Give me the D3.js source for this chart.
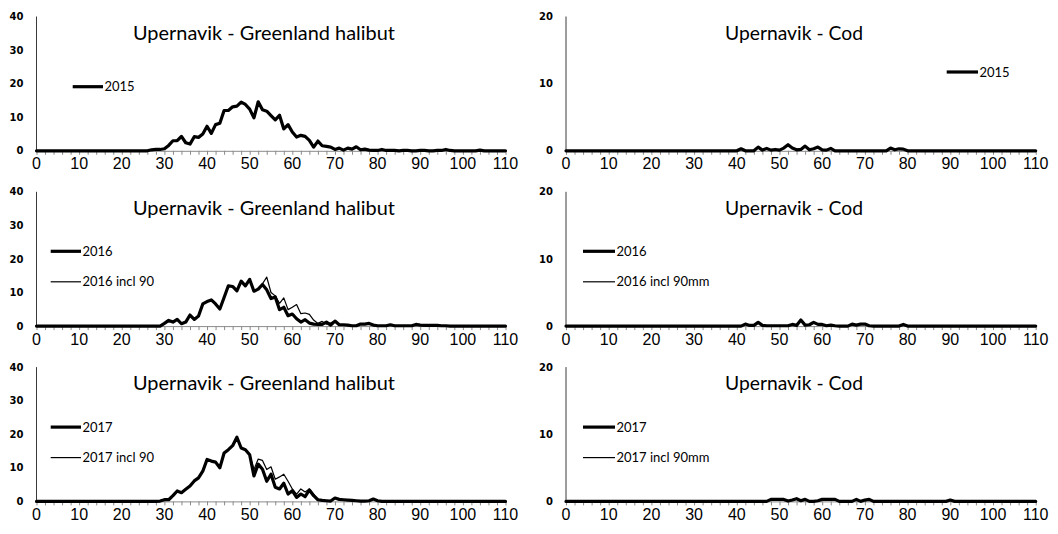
<!DOCTYPE html>
<html>
<head>
<meta charset="utf-8">
<script src="https://cdn.jsdelivr.net/npm/d3@7/dist/d3.min.js"></script>
<style>
  body { margin: 0; background: #fff; }
  svg { display: block; }
  .title { font-family: Lato, "Noto Sans", sans-serif; fill: #000; }
  .legend text { font-family: Lato, "Noto Sans", sans-serif; font-size: 13px; fill: #000; }
  .ylab { font-family: "DejaVu Sans", sans-serif; font-weight: bold; font-size: 10px; fill: #000; }
  .xlab { font-family: "Liberation Sans Narrow", "Arial Narrow", "Liberation Sans", sans-serif; font-size: 16px; fill: #000; }
</style>
</head>
<body>
<svg id="chart" width="1058" height="534"></svg>
<script>
// Length classes (cm), 0 to 110
const lengthClasses = d3.range(0, 111);
const xTickLabels = [0, 10, 20, 30, 40, 50, 60, 70, 80, 90, 100, 110];
const halibutYTicks = [0, 10, 20, 30, 40];
const codYTicks = [0, 10, 20];

// Greenland halibut length frequencies, Upernavik
const halibut2015 = [
  0, 0, 0, 0, 0, 0, 0, 0, 0, 0,
  0, 0, 0, 0, 0, 0, 0, 0, 0, 0,
  0, 0, 0, 0, 0, 0, 0, 0.3, 0.4, 0.4,
  0.6, 1.6, 3.0, 3.0, 4.3, 2.4, 2.0, 4.2, 4.0, 5.0,
  7.3, 5.2, 7.8, 8.2, 12.0, 12.0, 13.1, 13.3, 14.5, 13.8,
  12.4, 9.8, 14.6, 12.2, 11.8, 10.5, 9.2, 10.6, 6.5, 7.8,
  5.6, 4.1, 4.6, 4.3, 3.1, 1.1, 2.9, 1.5, 1.3, 1.1,
  0.4, 0.8, 0.2, 0.8, 0.5, 1.2, 0.3, 0.5, 0.2, 0.1,
  0.1, 0.4, 0.1, 0.1, 0.1, 0, 0.1, 0.1, 0, 0,
  0.1, 0.1, 0, 0, 0.1, 0.1, 0.4, 0.1, 0, 0,
  0, 0, 0, 0, 0.2, 0, 0, 0, 0, 0,
  0
];
const halibut2016 = [
  0, 0, 0, 0, 0, 0, 0, 0, 0, 0,
  0, 0, 0, 0, 0, 0, 0, 0, 0, 0,
  0, 0, 0, 0, 0, 0, 0, 0, 0, 0,
  0.8, 1.7, 1.2, 2.0, 0.7, 1.2, 3.3, 2.0, 3.0, 6.6,
  7.3, 7.8, 6.6, 5.1, 8.5, 12.0, 11.8, 10.5, 13.4, 12.0,
  13.9, 10.4, 11.0, 12.4, 10.8, 8.2, 8.7, 4.9, 5.6, 3.1,
  3.6, 2.2, 1.2, 1.9, 0.9, 0.6, 0.5, 0.5, 1.2, 0.3,
  1.5, 0.4, 0.4, 0.3, 0.1, 0.1, 0.6, 0.6, 0.8, 0.3,
  0.1, 0.1, 0.1, 0.4, 0.1, 0.1, 0.1, 0.1, 0.1, 0.5,
  0.3, 0.2, 0.2, 0.2, 0.2, 0.1, 0.1, 0, 0, 0,
  0, 0, 0, 0, 0, 0, 0, 0, 0, 0,
  0
];
const halibut2016incl90 = [
  0, 0, 0, 0, 0, 0, 0, 0, 0, 0,
  0, 0, 0, 0, 0, 0, 0, 0, 0, 0,
  0, 0, 0, 0, 0, 0, 0, 0, 0, 0,
  0.8, 1.7, 1.2, 2.0, 0.7, 1.2, 3.3, 2.0, 3.0, 6.6,
  7.3, 7.8, 6.6, 5.1, 8.5, 12.0, 11.8, 10.5, 13.4, 12.0,
  13.9, 10.4, 11.0, 12.6, 14.6, 10.0, 9.0, 6.8, 8.4, 4.9,
  5.6, 6.4, 3.7, 3.9, 3.5, 1.8, 0.8, 1.4, 0.6, 1.0,
  1.5, 0.4, 0.4, 0.3, 0.1, 0.1, 0.6, 0.6, 0.8, 0.3,
  0.1, 0.1, 0.1, 0.4, 0.1, 0.1, 0.1, 0.1, 0.1, 0.5,
  0.3, 0.2, 0.2, 0.2, 0.2, 0.1, 0.1, 0, 0, 0,
  0, 0, 0, 0, 0, 0, 0, 0, 0, 0,
  0
];
const halibut2017 = [
  0, 0, 0, 0, 0, 0, 0, 0, 0, 0,
  0, 0, 0, 0, 0, 0, 0, 0, 0, 0,
  0, 0, 0, 0, 0, 0, 0, 0, 0, 0.1,
  0.5, 0.5, 1.7, 3.1, 2.6, 3.6, 4.6, 6.1, 7.0, 9.0,
  12.5, 12.0, 11.7, 10.0, 14.4, 15.4, 16.6, 19.1, 15.9, 15.4,
  13.9, 7.6, 11.1, 9.6, 6.0, 8.1, 4.2, 3.7, 5.4, 2.2,
  3.2, 1.2, 2.2, 1.4, 3.4, 1.7, 0.5, 0.3, 0.2, 0.1,
  1.0, 0.6, 0.5, 0.4, 0.3, 0.2, 0.1, 0.1, 0.2, 0.7,
  0.2, 0, 0, 0, 0, 0, 0, 0, 0, 0,
  0, 0, 0, 0, 0, 0, 0, 0, 0, 0,
  0, 0, 0, 0, 0, 0, 0, 0, 0, 0,
  0
];
const halibut2017incl90 = [
  0, 0, 0, 0, 0, 0, 0, 0, 0, 0,
  0, 0, 0, 0, 0, 0, 0, 0, 0, 0,
  0, 0, 0, 0, 0, 0, 0, 0, 0, 0.1,
  0.5, 0.5, 1.7, 3.1, 2.6, 3.6, 4.6, 6.1, 7.0, 9.0,
  12.5, 12.0, 11.7, 10.0, 14.4, 15.4, 16.6, 19.1, 15.9, 15.4,
  13.9, 9.5, 12.6, 12.2, 9.5, 10.3, 6.6, 7.3, 8.1, 6.0,
  3.7, 2.2, 3.7, 2.8, 3.7, 2.2, 0.5, 0.3, 0.2, 0.1,
  1.0, 0.6, 0.5, 0.4, 0.3, 0.2, 0.1, 0.1, 0.2, 0.7,
  0.2, 0, 0, 0, 0, 0, 0, 0, 0, 0,
  0, 0, 0, 0, 0, 0, 0, 0, 0, 0,
  0, 0, 0, 0, 0, 0, 0, 0, 0, 0,
  0
];

// Cod length frequencies, Upernavik
const cod2015 = [
  0, 0, 0, 0, 0, 0, 0, 0, 0, 0,
  0, 0, 0, 0, 0, 0, 0, 0, 0, 0,
  0, 0, 0, 0, 0, 0, 0, 0, 0, 0,
  0, 0, 0, 0, 0, 0, 0, 0, 0, 0,
  0, 0.3, 0, 0, 0, 0.55, 0.1, 0.35, 0.1, 0.2,
  0.1, 0.4, 0.9, 0.4, 0.15, 0.2, 0.7, 0.15, 0.3, 0.55,
  0.15, 0.1, 0.35, 0, 0, 0, 0, 0, 0, 0,
  0, 0, 0, 0, 0, 0, 0.4, 0.15, 0.3, 0.25,
  0, 0, 0, 0, 0, 0, 0, 0, 0, 0,
  0, 0, 0, 0, 0, 0, 0, 0, 0, 0,
  0, 0, 0, 0, 0, 0, 0, 0, 0, 0,
  0
];
const cod2016 = [
  0, 0, 0, 0, 0, 0, 0, 0, 0, 0,
  0, 0, 0, 0, 0, 0, 0, 0, 0, 0,
  0, 0, 0, 0, 0, 0, 0, 0, 0, 0,
  0, 0, 0, 0, 0, 0, 0, 0, 0, 0,
  0, 0, 0.3, 0.1, 0.1, 0.55, 0.1, 0.05, 0.05, 0.05,
  0.05, 0.05, 0.05, 0.25, 0.1, 0.9, 0.15, 0.2, 0.55, 0.25,
  0.25, 0.05, 0.15, 0.05, 0, 0, 0, 0.3, 0.15, 0.3,
  0.3, 0.05, 0, 0, 0, 0, 0, 0, 0, 0.25,
  0, 0, 0, 0, 0, 0, 0, 0, 0, 0,
  0, 0, 0, 0, 0, 0, 0, 0, 0, 0,
  0, 0, 0, 0, 0, 0, 0, 0, 0, 0,
  0
];
const cod2016incl90 = cod2016.slice();
const cod2017 = [
  0, 0, 0, 0, 0, 0, 0, 0, 0, 0,
  0, 0, 0, 0, 0, 0, 0, 0, 0, 0,
  0, 0, 0, 0, 0, 0, 0, 0, 0, 0,
  0, 0, 0, 0, 0, 0, 0, 0, 0, 0,
  0, 0, 0, 0, 0, 0, 0, 0, 0.3, 0.3,
  0.3, 0.3, 0.05, 0.2, 0.4, 0.1, 0.3, 0, 0, 0.1,
  0.3, 0.3, 0.3, 0.3, 0, 0, 0, 0, 0.3, 0,
  0.2, 0.3, 0, 0, 0, 0, 0, 0, 0, 0,
  0, 0, 0, 0, 0, 0, 0, 0, 0, 0,
  0.2, 0, 0, 0, 0, 0, 0, 0, 0, 0,
  0, 0, 0, 0, 0, 0, 0, 0, 0, 0,
  0
];
const cod2017incl90 = cod2017.slice();

const titleHalibut = "Upernavik - Greenland halibut";
const titleCod = "Upernavik - Cod";

// Layout of the 3 x 2 grid of small charts
const columns = [
  { left: 36.5, right: 505.5, titleX: 264, titleWidth: 262 },
  { left: 566, right: 1035.7, titleX: 794, titleWidth: 138 }
];
const rowOffsets = [0, 175.3, 350.6];
const plotTop = 16.5, plotBottom = 150.8;

const THICK = 3.2, THIN = 1.2;

// legend entries: [start, end] offsets from the value axis, and y
const panels = [
  { col: 0, row: 0, title: titleHalibut, yMax: 40, yTicks: halibutYTicks,
    series: [{ name: "2015", values: halibut2015, w: THICK, legend: [36.2, 66.5, 86.7] }] },
  { col: 1, row: 0, title: titleCod, yMax: 20, yTicks: codYTicks,
    series: [{ name: "2015", values: cod2015, w: THICK, legend: [380.7, 412, 72] }] },
  { col: 0, row: 1, title: titleHalibut, yMax: 40, yTicks: halibutYTicks,
    series: [{ name: "2016", values: halibut2016, w: THICK, legend: [14.2, 44.5, 76] },
             { name: "2016 incl 90", values: halibut2016incl90, w: THIN, legend: [14.2, 44.5, 106.5] }] },
  { col: 1, row: 1, title: titleCod, yMax: 20, yTicks: codYTicks,
    series: [{ name: "2016", values: cod2016, w: THICK, legend: [17, 49, 76] },
             { name: "2016 incl 90mm", values: cod2016incl90, w: THIN, legend: [17, 49, 106.5] }] },
  { col: 0, row: 2, title: titleHalibut, yMax: 40, yTicks: halibutYTicks,
    series: [{ name: "2017", values: halibut2017, w: THICK, legend: [14.2, 44.5, 76.5] },
             { name: "2017 incl 90", values: halibut2017incl90, w: THIN, legend: [14.2, 44.5, 107] }] },
  { col: 1, row: 2, title: titleCod, yMax: 20, yTicks: codYTicks,
    series: [{ name: "2017", values: cod2017, w: THICK, legend: [17, 49, 76.5] },
             { name: "2017 incl 90mm", values: cod2017incl90, w: THIN, legend: [17, 49, 107] }] }
];

const svg = d3.select("#chart");

panels.forEach(p => {
  const c = columns[p.col];
  const g = svg.append("g").attr("transform", `translate(0,${rowOffsets[p.row]})`);

  const x = d3.scaleLinear().domain([0, 110]).range([c.left, c.right]);
  const y = d3.scaleLinear().domain([0, p.yMax]).range([plotBottom, plotTop]);

  // value axis: plain line with bold labels
  g.append("line")
    .attr("x1", c.left).attr("x2", c.left)
    .attr("y1", y(0)).attr("y2", y(p.yMax))
    .attr("stroke", "#3a3a3a").attr("stroke-width", 1);
  g.selectAll(".ylab").data(p.yTicks).join("text")
    .attr("class", "ylab")
    .attr("x", c.left - 13)
    .attr("y", d => y(d))
    .attr("dy", "0.36em")
    .attr("text-anchor", "end")
    .text(d => d);

  // length axis: ticks every 2 cm, labels every 10 cm
  const xAxis = d3.axisBottom(x)
    .tickValues(d3.range(0, 111, 2))
    .tickSize(4)
    .tickSizeOuter(0)
    .tickFormat("");
  const ax = g.append("g").attr("transform", `translate(0,${plotBottom})`).call(xAxis);
  ax.select(".domain").attr("stroke", "#8a8a8a");
  ax.selectAll(".tick line").attr("stroke", "#8a8a8a");

  g.selectAll(".xlab").data(xTickLabels).join("text")
    .attr("class", "xlab")
    .attr("x", d => x(d))
    .attr("y", plotBottom + 18.5)
    .attr("text-anchor", "middle")
    .text(d => d);

  // title, fitted to its width
  const t = g.append("text")
    .attr("class", "title")
    .attr("x", c.titleX)
    .attr("y", 39.5)
    .attr("text-anchor", "middle")
    .style("font-size", "18px")
    .text(p.title);
  const w = t.node().getComputedTextLength();
  t.style("font-size", (18 * c.titleWidth / w).toFixed(2) + "px");

  // series lines
  const line = d3.line()
    .x((d, i) => x(lengthClasses[i]))
    .y(d => y(d));
  p.series.forEach(s => {
    g.append("path")
      .datum(s.values)
      .attr("fill", "none")
      .attr("stroke", "#000")
      .attr("stroke-width", s.w)
      .attr("stroke-linejoin", "round")
      .attr("stroke-linecap", "round")
      .attr("d", line);
  });

  // legend
  const lg = g.append("g").attr("class", "legend");
  p.series.forEach(s => {
    const [dx1, dx2, ly] = s.legend;
    lg.append("line")
      .attr("x1", c.left + dx1).attr("x2", c.left + dx2)
      .attr("y1", ly).attr("y2", ly)
      .attr("stroke", "#000").attr("stroke-width", s.w);
    lg.append("text")
      .attr("x", c.left + dx2 + 1.5)
      .attr("y", ly)
      .attr("dy", "0.35em")
      .text(s.name);
  });
});
</script>
</body>
</html>
